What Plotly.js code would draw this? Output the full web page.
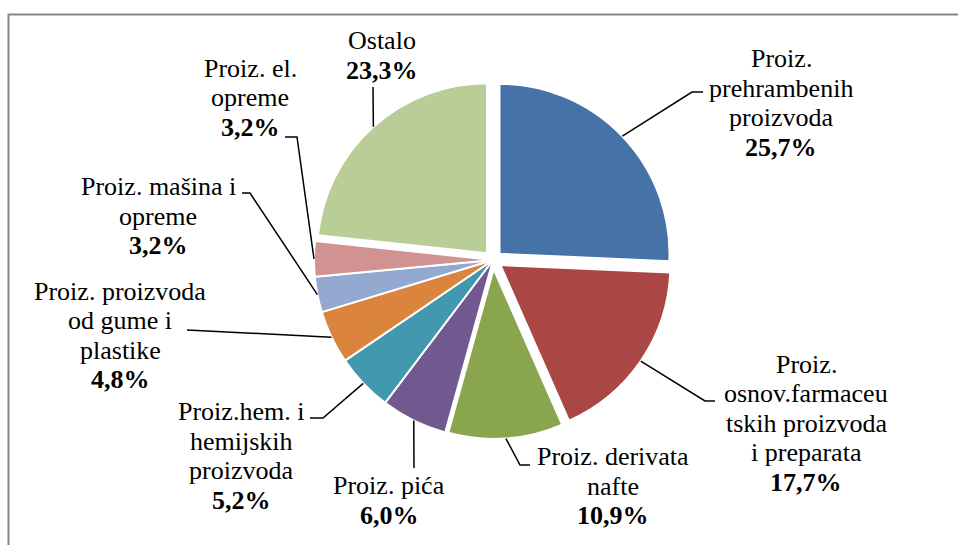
<!DOCTYPE html>
<html>
<head>
<meta charset="utf-8">
<script src="https://cdn.plot.ly/plotly-3.0.1.min.js"></script>
<style>
  html, body { margin: 0; padding: 0; background: #ffffff; }
  #chart { width: 958px; height: 545px; }
</style>
</head>
<body>
<div id="chart"></div>
<script>
// ---------- DATA ----------
const categories = [
  'Proiz. prehrambenih proizvoda',
  'Proiz. osnov.farmaceutskih proizvoda i preparata',
  'Proiz. derivata nafte',
  'Proiz. pića',
  'Proiz.hem. i hemijskih proizvoda',
  'Proiz. proizvoda od gume i plastike',
  'Proiz. mašina i opreme',
  'Proiz. el. opreme',
  'Ostalo'
];
const labelLines = [
  ['Proiz.', 'prehrambenih', 'proizvoda'],
  ['Proiz.', 'osnov.farmaceu', 'tskih proizvoda', 'i preparata'],
  ['Proiz. derivata', 'nafte'],
  ['Proiz. pića'],
  ['Proiz.hem. i', 'hemijskih', 'proizvoda'],
  ['Proiz. proizvoda', 'od gume i', 'plastike'],
  ['Proiz. mašina i', 'opreme'],
  ['Proiz. el.', 'opreme'],
  ['Ostalo']
];
const shares = [25.7, 17.7, 10.9, 6.0, 5.2, 4.8, 3.2, 3.2, 23.3];
const percentLabels = ['25,7%', '17,7%', '10,9%', '6,0%', '5,2%', '4,8%', '3,2%', '3,2%', '23,3%'];
const exploded = [true, true, true, false, false, false, false, false, true];

// ---------- STYLE / LAYOUT ----------
const colors = ['#4572A7', '#AA4643', '#89A54E', '#71588F', '#4198AF', '#DB843D', '#93A9CF', '#D19392', '#B9CD96'];
const W = 958, H = 545;
const PIE_CX = 493, PIE_CY = 260, PIE_HALF = 179;
const PULL = 0.053;
const FONT = 'Liberation Serif';
const FONT_SIZE = 26;
const LINE_GAP = 29.5;
// label block: [center x, mid-baseline y] (pixels)
const labelPos = [[781, 112], [806, 432], [613, 495], [389, 509.5], [241, 465], [120, 344.5], [158, 225], [250, 106.5], [382, 64.5]];
// leader line points after the slice anchor (pixels)
const leaderPts = [
  [[692, 92], [703, 92]],
  [[705, 401], [715, 401]],
  [[520, 465], [530, 465]],
  [[414, 468]],
  [[323, 418], [310, 418]],
  [[187, 330]],
  [[250, 193], [242, 193]],
  [[297, 137], [285, 137]],
  [[373, 87]]
];

const px2x = x => x / W;
const px2y = y => 1 - y / H;
const domain = {
  x: [px2x(PIE_CX - PIE_HALF), px2x(PIE_CX + PIE_HALF)],
  y: [px2y(PIE_CY + PIE_HALF), px2y(PIE_CY - PIE_HALF)]
};
const clear = 'rgba(0,0,0,0)';

const traceBase = {
  type: 'pie',
  labels: categories,
  values: shares,
  sort: false,
  direction: 'clockwise',
  rotation: 0,
  textinfo: 'none',
  hoverinfo: 'label+percent',
  domain: domain,
  showlegend: false
};
const traceFlat = Object.assign({}, traceBase, {
  name: 'flat',
  marker: {
    colors: colors.map((c, i) => exploded[i] ? clear : c),
    line: { color: '#ffffff', width: exploded.map(e => e ? 0 : 2) }
  }
});
const traceExploded = Object.assign({}, traceBase, {
  name: 'exploded',
  pull: exploded.map(e => e ? PULL : 0),
  marker: {
    colors: colors.map((c, i) => exploded[i] ? c : clear),
    line: { color: '#ffffff', width: exploded.map(e => e ? 2 : 0) }
  }
});

// text annotations, one per line
const annotations = [];
labelLines.forEach((lines, i) => {
  const all = lines.concat(['<b>' + percentLabels[i] + '</b>']);
  const n = all.length;
  all.forEach((t, k) => {
    const baseline = labelPos[i][1] + (k - (n - 1) / 2) * LINE_GAP;
    annotations.push({
      xref: 'paper', yref: 'paper',
      x: px2x(labelPos[i][0]), y: px2y(baseline - 9),
      xanchor: 'center', yanchor: 'middle',
      text: t, showarrow: false,
      font: { family: FONT, size: FONT_SIZE, color: '#000000' }
    });
  });
});

const borderShape = {
  type: 'path', xref: 'paper', yref: 'paper', layer: 'above',
  path: 'M ' + px2x(8.5) + ' ' + px2y(545) + ' L ' + px2x(8.5) + ' ' + px2y(14.5) + ' L ' + px2x(958) + ' ' + px2y(14.5),
  line: { color: '#878787', width: 2 }
};

// leader lines anchored at slice arc midpoints, computed from the slice angles
function leaderShapes() {
  const total = shares.reduce((a, b) => a + b, 0);
  const maxPull = Math.max.apply(null, exploded.map(e => e ? PULL : 0));
  const out = [];
  let acc = 0;
  shares.forEach((v, i) => {
    const mid = 2 * Math.PI * (acc + v / 2) / total;
    acc += v;
    const pull = exploded[i] ? PULL : 0;
    const r = exploded[i] ? PIE_HALF / (1 + maxPull) : PIE_HALF;
    const dx = Math.sin(mid), dy = -Math.cos(mid);
    const sx = PIE_CX + dx * r * (1 + pull);
    const sy = PIE_CY + dy * r * (1 + pull);
    let path = 'M ' + px2x(sx) + ' ' + px2y(sy);
    leaderPts[i].forEach(p => { path += ' L ' + px2x(p[0]) + ' ' + px2y(p[1]); });
    out.push({
      type: 'path', xref: 'paper', yref: 'paper', layer: 'above',
      path: path, line: { color: '#000000', width: 1.5 }
    });
  });
  return out;
}

const layout = {
  width: W, height: H,
  margin: { l: 0, r: 0, t: 0, b: 0, pad: 0 },
  paper_bgcolor: '#ffffff',
  plot_bgcolor: '#ffffff',
  font: { family: FONT },
  showlegend: false,
  hovermode: false,
  annotations: annotations,
  shapes: [borderShape].concat(leaderShapes())
};

Plotly.newPlot('chart', [traceFlat, traceExploded], layout, { displayModeBar: false });
</script>
</body>
</html>
